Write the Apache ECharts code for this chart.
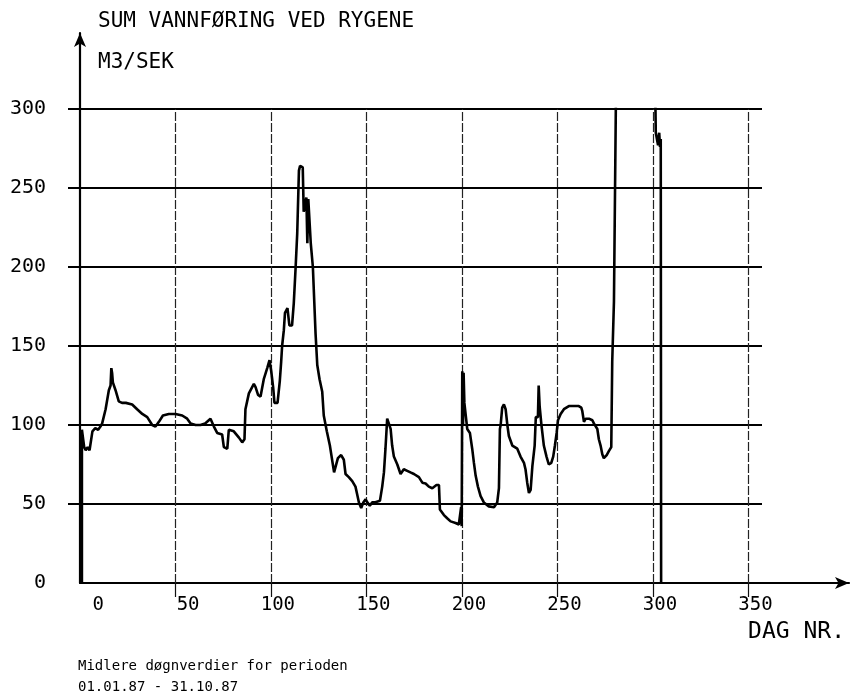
<!DOCTYPE html>
<html><head><meta charset="utf-8">
<script src="https://cdn.jsdelivr.net/npm/echarts@6/dist/echarts.min.js"></script>
<style>html,body{margin:0;padding:0;background:#fff}#c{width:862px;height:699px}</style>
</head><body><div id="c"></div>
<script>
// Day numbers (DAG NR.) and daily mean flow (M3/SEK)
const days = [
  1, 1, 1.6, 2.2, 3, 4, 5, 5.8, 6.5, 8, 9.5, 10.7, 11.6, 13.4, 15.1, 16, 16.4, 16.8, 17.2, 18.6,
  20.3, 22, 24, 27.3, 29.9, 32.6, 35.2, 37.8, 39.5, 41.3, 43.4, 46.5, 50, 53.5, 56.1, 57.9, 60.5, 63.1, 65.5, 68.3,
  70.1, 71.8, 74.4, 75.3, 77.1, 77.9, 80.5, 83.2, 84.9, 86.1, 86.6, 88.4, 91, 91.9, 93.2, 94.5, 95.4, 96.2, 98, 99.2,
  100.1, 101.1, 101.8, 103.4, 104.6, 105.3, 105.8, 106.7, 107.3, 108.6, 109.6, 111, 111.9, 112.8, 113.7, 114.6, 115.2, 116.6, 117.1, 118.1,
  118.5, 119, 119.5, 120.3, 120.8, 121.5, 121.9, 122.4, 123.3, 124.2, 125.4, 126.8, 127.6, 129.2, 130.8, 131.6, 133, 133.8, 135, 136.7,
  138.1, 139, 140.7, 142.5, 144.2, 145.1, 146, 147.2, 148.3, 149.5, 150.4, 151.7, 153, 154.2, 157, 158.2, 159.1, 159.9, 160.8, 161.7,
  162.6, 163.4, 164.3, 166.1, 167.8, 169.5, 171.3, 173, 174.8, 177.4, 179.2, 180.9, 182.6, 184.4, 186.6, 187.9, 188.4, 190.5, 192.2, 194,
  196.6, 198.3, 199.2, 199.5, 199.8, 200.1, 200.5, 200.8, 201.2, 201.8, 202.7, 204.1, 205.3, 206.2, 207.1, 208.3, 209.7, 211.4, 214, 216.7,
  218.4, 219.3, 219.8, 220.2, 221, 221.9, 222.8, 223.7, 224.5, 226.3, 228.9, 230.6, 232.4, 233.2, 234.1, 235, 235.9, 236.8, 238, 238.6,
  239.7, 240.1, 240.6, 241.5, 242.8, 244.2, 245.4, 246.7, 247.7, 248.6, 249.5, 250.2, 251.6, 253.3, 255.9, 258.5, 261.1, 262.4, 262.9, 263.8,
  264.7, 266.4, 268.2, 269, 270.8, 271.6, 272.5, 273.4, 274.2, 275.7, 276.9, 278.1, 278.6, 279.5, 280.3, 280.8, 300.8, 301.4, 302.4, 302.6,
  303.2, 303.6, 304, 304.2
];
const flow = [
  0, 97, 98, 86, 84, 86, 84, 85, 96, 98, 97, 99, 101, 110, 122, 125, 136, 133, 127, 122,
  115, 114, 114, 113, 110, 107, 105, 100, 99, 102, 106, 107, 107, 106, 104, 101, 100, 100, 101, 104,
  99, 95, 94, 86, 85, 97, 96, 92, 89, 91, 110, 120, 126, 124, 119, 118, 118, 129, 136, 141,
  134, 124, 114, 114, 128, 140, 150, 160, 171, 174, 163, 163, 177, 198, 221, 261, 264, 263, 235, 235,
  244, 215, 243, 242, 215, 215, 200, 185, 158, 138, 129, 121, 106, 96, 87, 86, 70, 70, 79, 81,
  78, 69, 67, 64.5, 61, 56, 51, 47.5, 51, 53, 51, 49, 51, 51, 52, 61, 70, 85, 104, 105,
  97.5, 87, 80, 75, 69, 72, 71, 70, 69, 67, 63.5, 63, 61, 60, 62, 62, 46.5, 43, 41, 39,
  38, 37, 37, 48, 36, 134, 100, 133, 114, 114, 97.5, 95, 85, 76, 68, 61, 55, 51, 48.5, 48,
  51, 60, 97.5, 100, 111, 113, 110, 100, 93, 87, 85, 80, 76, 72, 63.5, 57, 59, 74, 87, 105,
  105, 125, 112, 100.5, 87, 80, 75, 76, 80, 87, 95, 103, 107, 110, 112, 112, 112, 111, 109, 102,
  104, 104, 103, 101, 97.5, 91, 87, 81.5, 79, 81, 83.6, 86, 140, 178, 178, 340, 340, 285, 285, 277,
  285, 276, 281, 0
];
const xTickLabels = [0, 50, 100, 150, 200, 250, 300, 350];
const yTickLabels = [0, 50, 100, 150, 200, 250, 300];
const xGridTicks = [50, 100, 150, 200, 250, 300, 350];
const yGridTicks = [50, 100, 150, 200, 250, 300];

const FONT = '"DejaVu Sans Mono", "Liberation Mono", monospace';
const pairs = days.map((d, i) => [d, flow[i]]);

const chart = echarts.init(document.getElementById('c'), null, {renderer: 'canvas'});
chart.setOption({
  animation: false,
  backgroundColor: '#ffffff',
  grid: [
    {left: 80, right: 100, top: 109, bottom: 116},
    {left: 80, right: 13, top: 33, bottom: 116}
  ],
  xAxis: [
    {
      gridIndex: 0, type: 'value', min: 0, max: 357, interval: 50,
      axisLine: {show: false},
      axisTick: {show: true, length: 14, customValues: xGridTicks, lineStyle: {color: '#111', width: 1.2}},
      axisLabel: {
        customValues: xTickLabels, margin: 13, align: 'center', color: '#000',
        fontFamily: FONT, fontSize: 19,
        formatter: v => '{a|' + v + '}',
        rich: {a: {width: 48, align: 'right', fontFamily: FONT, fontSize: 19, color: '#000'}}
      },
      splitLine: {show: false}
    },
    {
      gridIndex: 0, type: 'value', min: 0, max: 357, interval: 50, position: 'bottom',
      axisLine: {show: false}, axisLabel: {show: false},
      axisTick: {show: true, inside: true, length: 474, customValues: xGridTicks,
        lineStyle: {color: '#222', width: 1.2, type: [9, 2]}},
      splitLine: {show: false}
    },
    {
      gridIndex: 1, type: 'value', min: 0, max: 1,
      axisLine: {show: true, symbol: ['none', 'arrow'], symbolSize: [9, 14], lineStyle: {color: '#000', width: 2.2}},
      axisTick: {show: false}, axisLabel: {show: false}, splitLine: {show: false}
    }
  ],
  yAxis: [
    {
      gridIndex: 0, type: 'value', min: 0, max: 300, interval: 50,
      axisLine: {show: false},
      axisTick: {show: true, length: 12, customValues: yGridTicks, lineStyle: {color: '#000', width: 2}},
      axisLabel: {customValues: yTickLabels, margin: 34, color: '#000', fontFamily: FONT, fontSize: 20},
      splitLine: {show: true, lineStyle: {color: '#000', width: 2}}
    },
    {
      gridIndex: 1, type: 'value', min: 0, max: 1,
      axisLine: {show: true, symbol: ['none', 'arrow'], symbolSize: [9, 14], lineStyle: {color: '#000', width: 2.2}},
      axisTick: {show: false}, axisLabel: {show: false}, splitLine: {show: false}
    }
  ],
  series: [{
    type: 'line', xAxisIndex: 0, yAxisIndex: 0, data: pairs,
    symbol: 'none', showSymbol: false, clip: true, sampling: null,
    lineStyle: {color: '#000', width: 2.6}
  }],
  graphic: [
    {type: 'text', left: 98, top: 11, style: {text: 'SUM VANNFØRING VED RYGENE', font: '21px ' + FONT, fill: '#000'}},
    {type: 'text', left: 98, top: 52, style: {text: 'M3/SEK', font: '21px ' + FONT, fill: '#000'}},
    {type: 'text', right: 17, top: 621, style: {text: 'DAG NR.', font: '23px ' + FONT, fill: '#000'}},
    {type: 'text', left: 78, top: 659, style: {text: 'Midlere døgnverdier for perioden', font: '14px ' + FONT, fill: '#000'}},
    {type: 'text', left: 78, top: 680, style: {text: '01.01.87 - 31.10.87', font: '14px ' + FONT, fill: '#000'}}
  ]
});
</script>
</body></html>
